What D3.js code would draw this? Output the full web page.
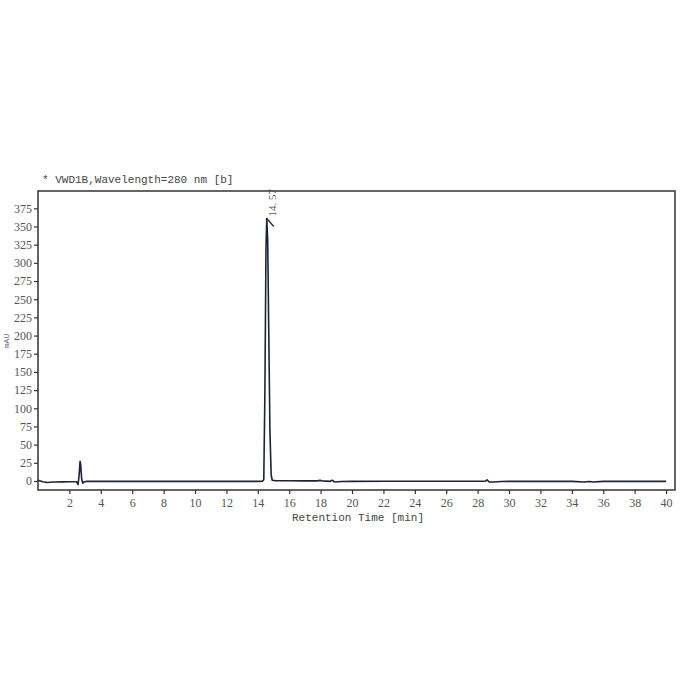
<!DOCTYPE html>
<html>
<head>
<meta charset="utf-8">
<script src="https://cdn.jsdelivr.net/npm/d3@7"></script>
<style>
  body { margin: 0; background: #fff; }
  svg text { fill: #444; }
</style>
</head>
<body>
<div id="chart"></div>
<script>
// chromatogram trace (minutes, mAU)
const times = [0, 0.3, 0.6, 1.0, 1.5, 2.0, 2.45, 2.55, 2.62, 2.68, 2.72, 2.78, 2.85, 2.95, 3.1, 4, 6, 8, 10, 12, 14, 14.3, 14.38, 14.45, 14.52, 14.57, 14.63, 14.7, 14.77, 14.85, 14.92, 15.1, 16, 17, 17.8, 17.95, 18.1, 18.6, 18.75, 18.9, 19.3, 20, 22, 24, 26, 28, 28.5, 28.6, 28.75, 29.0, 29.5, 30, 32, 34, 34.8, 35.1, 35.4, 36, 38, 40];
const signal = [1, -1, -2, -1.5, -1.2, -1, -1, -5, 8, 27, 22, 3, -3, -1, -0.5, -0.5, -0.5, -0.5, -0.5, -0.5, -0.5, -0.3, 2, 120, 320, 361, 330, 200, 70, 8, 1, 0.5, 0.3, 0.2, 0.2, 0.8, 0.2, -0.5, 1, -1.5, -0.8, -0.5, -0.3, -0.3, -0.3, -0.3, -0.3, 1.5, -1.5, -1.5, -0.8, -0.5, -0.5, -0.5, -1.5, -0.8, -1.5, -0.5, -0.5, -0.5];
const xTicks = [2, 4, 6, 8, 10, 12, 14, 16, 18, 20, 22, 24, 26, 28, 30, 32, 34, 36, 38, 40];
const yTicks = [0, 25, 50, 75, 100, 125, 150, 175, 200, 225, 250, 275, 300, 325, 350, 375];
const peakLabels = [{ t: 14.57, v: 361, label: "14. 57" }];

const width = 696, height = 696;
const margin = { top: 191, right: 21, bottom: 206, left: 38 };

const svg = d3.select('#chart').append('svg')
  .attr('width', width).attr('height', height);

const xScale = d3.scaleLinear().domain([0, 40.57]).range([margin.left, width - margin.right]);
const yScale = d3.scaleLinear().domain([-12.4, 398.8]).range([height - margin.bottom, margin.top]);

// title
svg.append('text')
  .attr('x', 42).attr('y', 183)
  .attr('font-family', 'Liberation Mono, monospace')
  .attr('font-size', 11)
  .text('* VWD1B,Wavelength=280 nm [b]');

// axes
const xAxis = svg.append('g')
  .attr('transform', `translate(0,${height - margin.bottom})`)
  .call(d3.axisBottom(xScale).tickValues(xTicks).tickSize(4).tickPadding(4));
const yAxis = svg.append('g')
  .attr('transform', `translate(${margin.left},0)`)
  .call(d3.axisLeft(yScale).tickValues(yTicks).tickSize(4).tickPadding(2));

[xAxis, yAxis].forEach(g => {
  g.select('.domain').remove();
  g.selectAll('line').attr('stroke', '#333').attr('stroke-width', 1.2);
  g.selectAll('text')
    .attr('font-family', 'Liberation Serif, serif')
    .attr('font-size', 12)
    .style('fill', '#555');
});

// frame
svg.append('rect')
  .attr('x', margin.left).attr('y', margin.top)
  .attr('width', width - margin.left - margin.right)
  .attr('height', height - margin.top - margin.bottom)
  .attr('fill', 'none')
  .attr('stroke', '#333')
  .attr('stroke-width', 1.5);

// axis titles
svg.append('text')
  .attr('x', 358).attr('y', 521)
  .attr('text-anchor', 'middle')
  .attr('font-family', 'Liberation Mono, monospace')
  .attr('font-size', 11)
  .text('Retention Time [min]');

svg.append('text')
  .attr('transform', 'translate(9,341) rotate(-90)')
  .attr('text-anchor', 'middle')
  .attr('font-family', 'Liberation Mono, monospace')
  .attr('font-size', 8)
  .style('fill', '#667')
  .text('mAU');

// trace
const line = d3.line()
  .x((d, i) => xScale(times[i]))
  .y((d, i) => yScale(signal[i]));

svg.append('path')
  .datum(signal)
  .attr('fill', 'none')
  .attr('stroke', '#1b2536')
  .attr('stroke-width', 1.6)
  .attr('stroke-linejoin', 'round')
  .attr('d', line);

// peak label
peakLabels.forEach(p => {
  const px = xScale(p.t), py = yScale(p.v);
  svg.append('line')
    .attr('x1', px).attr('y1', py)
    .attr('x2', px + 7).attr('y2', py + 8)
    .attr('stroke', '#1b2536').attr('stroke-width', 1.2);
  svg.append('text')
    .attr('transform', `translate(${px + 9},${py - 2}) rotate(-90)`)
    .attr('font-family', 'Liberation Serif, serif')
    .attr('font-size', 11)
    .style('fill', '#555')
    .text(p.label);
});
</script>
</body>
</html>
